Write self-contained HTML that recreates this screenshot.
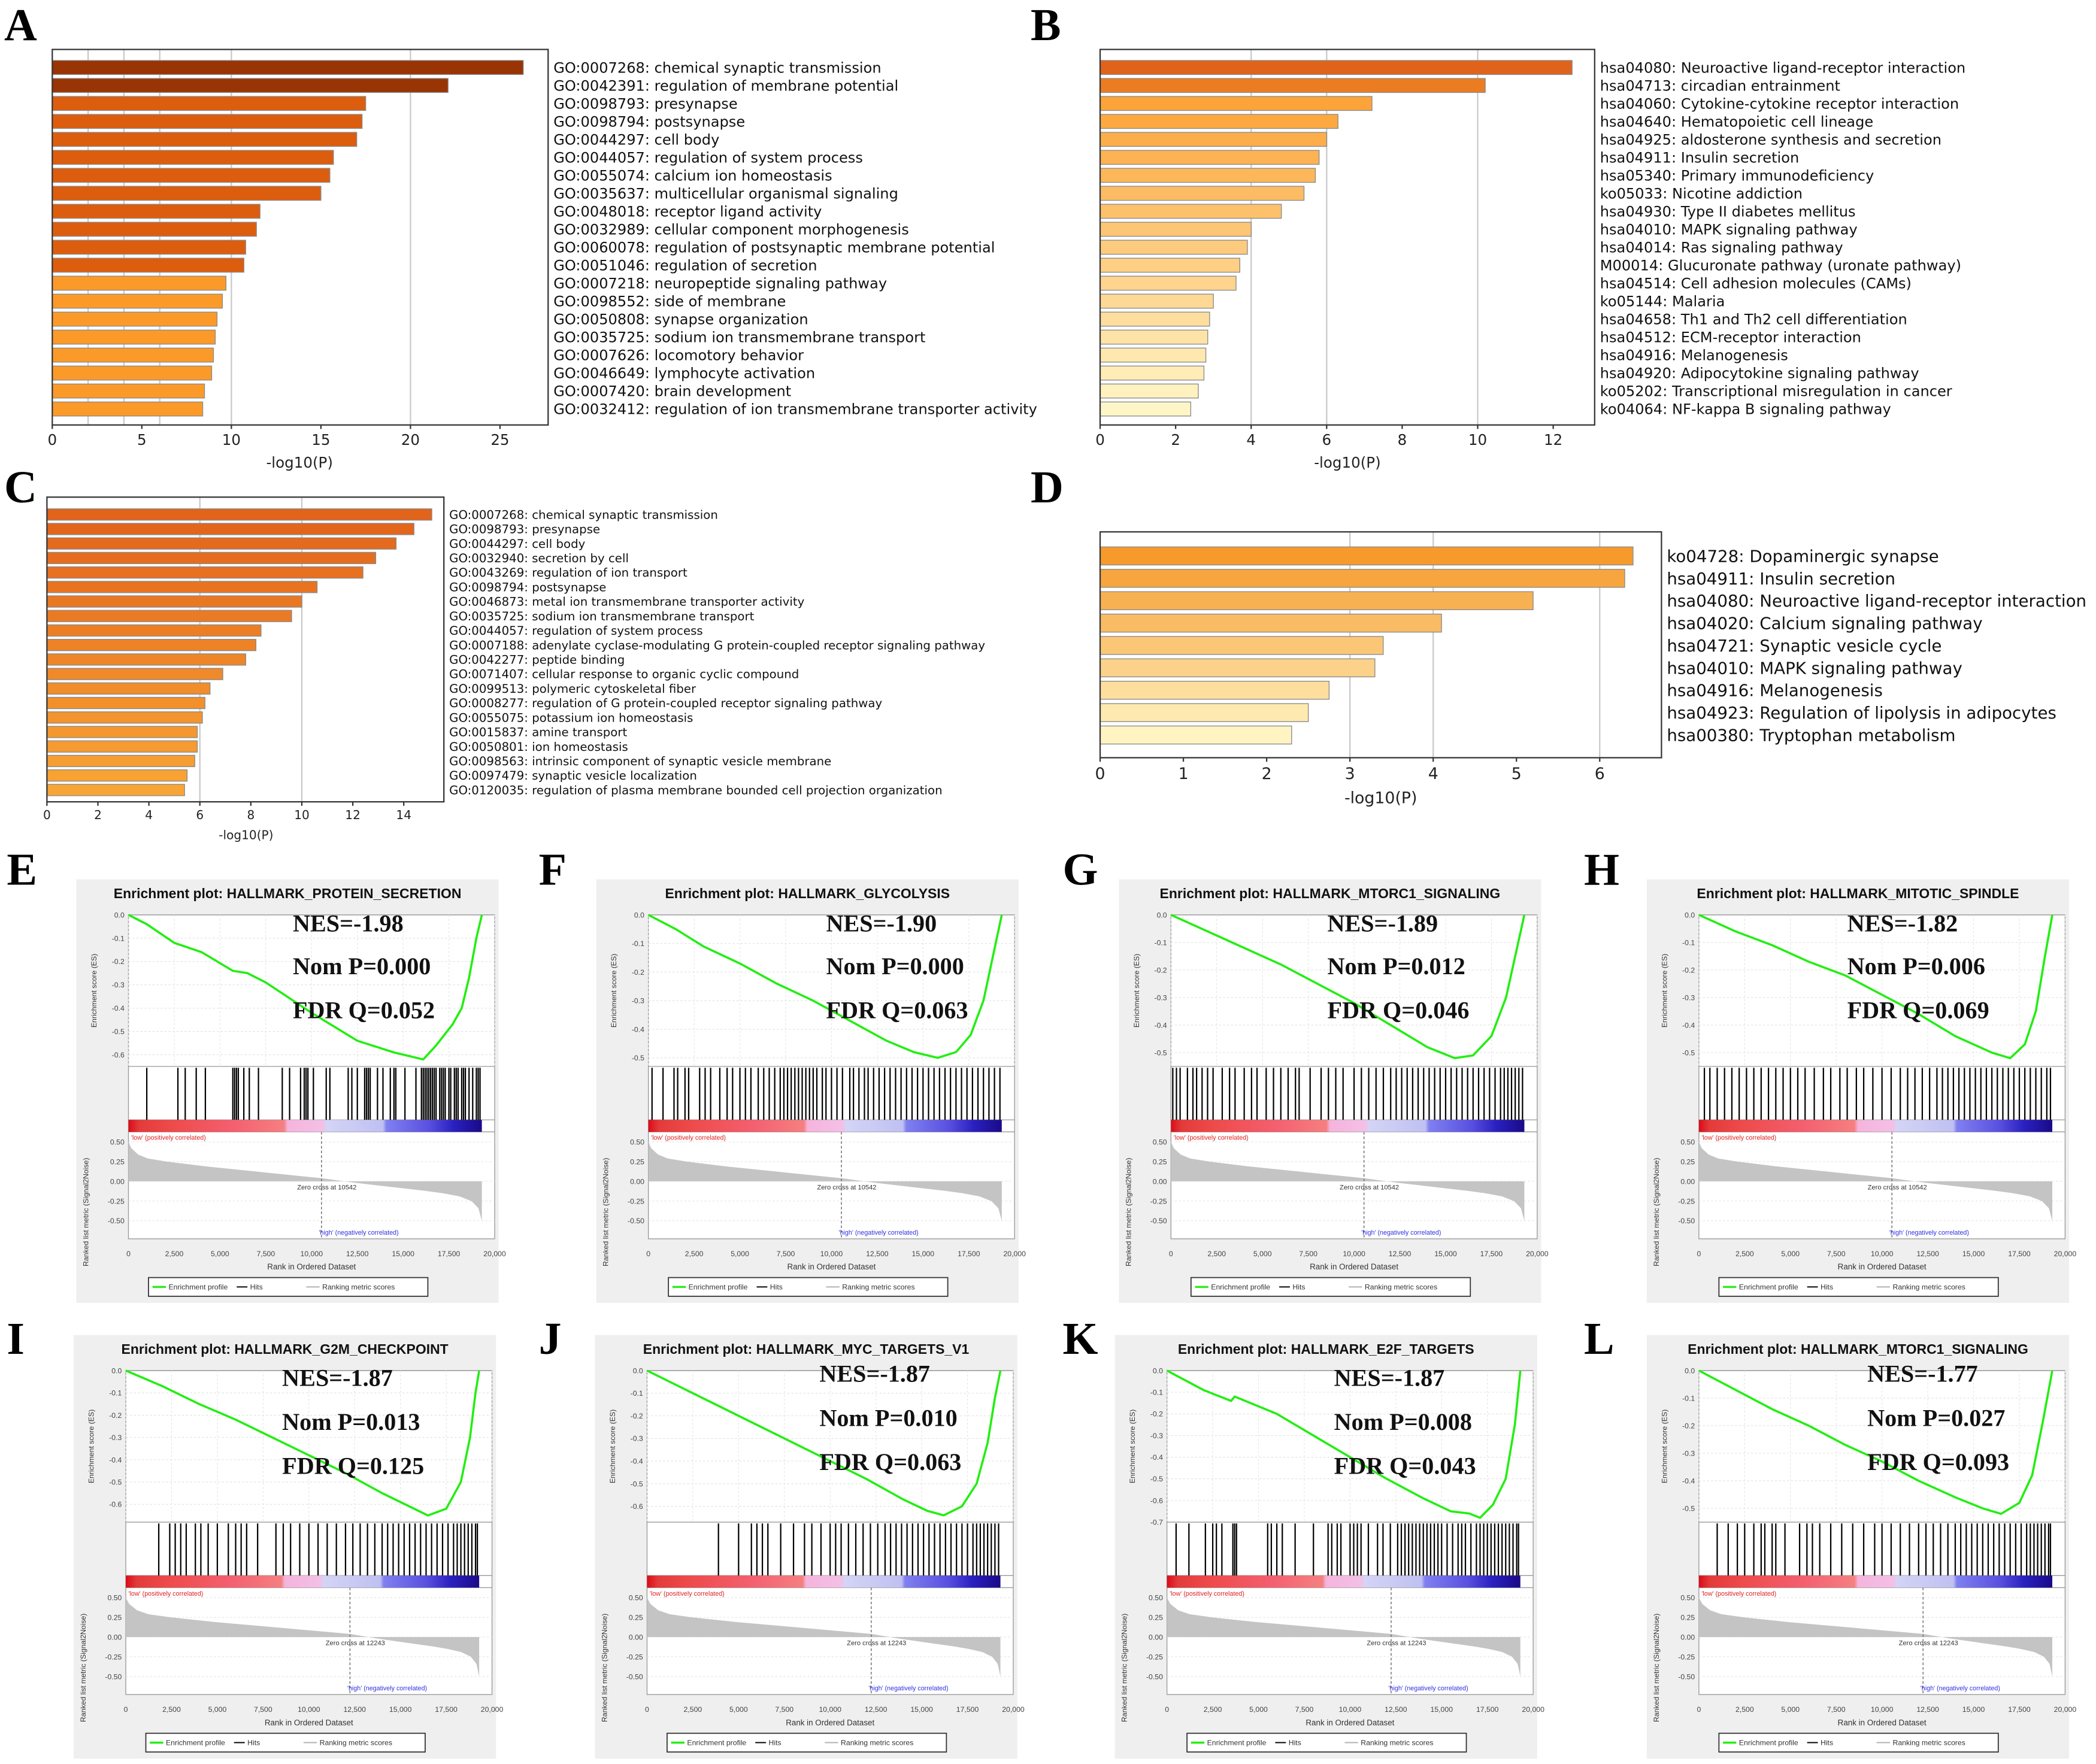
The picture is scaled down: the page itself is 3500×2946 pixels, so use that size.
<!DOCTYPE html>
<html><head><meta charset="utf-8"><style>
html,body{margin:0;padding:0;background:#fff;width:3500px;height:2946px;overflow:hidden}
svg{display:block}
</style></head><body>
<svg id="fig" xmlns="http://www.w3.org/2000/svg" width="3500" height="2946" viewBox="0 0 1568 1320" font-family="Liberation Sans, sans-serif">
<rect width="1568" height="1320" fill="#fff"/>
</svg>
<script>
// ---------- Bar chart data ----------
const aLabels=["GO:0007268: chemical synaptic transmission","GO:0042391: regulation of membrane potential","GO:0098793: presynapse","GO:0098794: postsynapse","GO:0044297: cell body","GO:0044057: regulation of system process","GO:0055074: calcium ion homeostasis","GO:0035637: multicellular organismal signaling","GO:0048018: receptor ligand activity","GO:0032989: cellular component morphogenesis","GO:0060078: regulation of postsynaptic membrane potential","GO:0051046: regulation of secretion","GO:0007218: neuropeptide signaling pathway","GO:0098552: side of membrane","GO:0050808: synapse organization","GO:0035725: sodium ion transmembrane transport","GO:0007626: locomotory behavior","GO:0046649: lymphocyte activation","GO:0007420: brain development","GO:0032412: regulation of ion transmembrane transporter activity"];
const aValues=[26.3,22.1,17.5,17.3,17.0,15.7,15.5,15.0,11.6,11.4,10.8,10.7,9.7,9.5,9.2,9.1,9.0,8.9,8.5,8.4];
const aTicks=[0,5,10,15,20,25];
const bLabels=["hsa04080: Neuroactive ligand-receptor interaction","hsa04713: circadian entrainment","hsa04060: Cytokine-cytokine receptor interaction","hsa04640: Hematopoietic cell lineage","hsa04925: aldosterone synthesis and secretion","hsa04911: Insulin secretion","hsa05340: Primary immunodeficiency","ko05033: Nicotine addiction","hsa04930: Type II diabetes mellitus","hsa04010: MAPK signaling pathway","hsa04014: Ras signaling pathway","M00014: Glucuronate pathway (uronate pathway)","hsa04514: Cell adhesion molecules (CAMs)","ko05144: Malaria","hsa04658: Th1 and Th2 cell differentiation","hsa04512: ECM-receptor interaction","hsa04916: Melanogenesis","hsa04920: Adipocytokine signaling pathway","ko05202: Transcriptional misregulation in cancer","ko04064: NF-kappa B signaling pathway"];
const bValues=[12.5,10.2,7.2,6.3,6.0,5.8,5.7,5.4,4.8,4.0,3.9,3.7,3.6,3.0,2.9,2.85,2.8,2.75,2.6,2.4];
const bTicks=[0,2,4,6,8,10,12];
const cLabels=["GO:0007268: chemical synaptic transmission","GO:0098793: presynapse","GO:0044297: cell body","GO:0032940: secretion by cell","GO:0043269: regulation of ion transport","GO:0098794: postsynapse","GO:0046873: metal ion transmembrane transporter activity","GO:0035725: sodium ion transmembrane transport","GO:0044057: regulation of system process","GO:0007188: adenylate cyclase-modulating G protein-coupled receptor signaling pathway","GO:0042277: peptide binding","GO:0071407: cellular response to organic cyclic compound","GO:0099513: polymeric cytoskeletal fiber","GO:0008277: regulation of G protein-coupled receptor signaling pathway","GO:0055075: potassium ion homeostasis","GO:0015837: amine transport","GO:0050801: ion homeostasis","GO:0098563: intrinsic component of synaptic vesicle membrane","GO:0097479: synaptic vesicle localization","GO:0120035: regulation of plasma membrane bounded cell projection organization"];
const cValues=[15.1,14.4,13.7,12.9,12.4,10.6,10.0,9.6,8.4,8.2,7.8,6.9,6.4,6.2,6.1,5.9,5.9,5.8,5.5,5.4];
const cTicks=[0,2,4,6,8,10,12,14];
const dLabels=["ko04728: Dopaminergic synapse","hsa04911: Insulin secretion","hsa04080: Neuroactive ligand-receptor interaction","hsa04020: Calcium signaling pathway","hsa04721: Synaptic vesicle cycle","hsa04010: MAPK signaling pathway","hsa04916: Melanogenesis","hsa04923: Regulation of lipolysis in adipocytes","hsa00380: Tryptophan metabolism"];
const dValues=[6.4,6.3,5.2,4.1,3.4,3.3,2.75,2.5,2.3];
const dTicks=[0,1,2,3,4,5,6];

// ---------- GSEA data (ranks in thousands) ----------
const gTitles=["HALLMARK_PROTEIN_SECRETION","HALLMARK_GLYCOLYSIS","HALLMARK_MTORC1_SIGNALING","HALLMARK_MITOTIC_SPINDLE","HALLMARK_G2M_CHECKPOINT","HALLMARK_MYC_TARGETS_V1","HALLMARK_E2F_TARGETS","HALLMARK_MTORC1_SIGNALING"];
const gNES=["-1.98","-1.90","-1.89","-1.82","-1.87","-1.87","-1.87","-1.77"];
const gNomP=["0.000","0.000","0.012","0.006","0.013","0.010","0.008","0.027"];
const gFDR=["0.052","0.063","0.046","0.069","0.125","0.063","0.043","0.093"];
const gZero=[10542,10542,10542,10542,12243,12243,12243,12243];
const gEsTicks=[[0,-0.1,-0.2,-0.3,-0.4,-0.5,-0.6],[0,-0.1,-0.2,-0.3,-0.4,-0.5],[0,-0.1,-0.2,-0.3,-0.4,-0.5],[0,-0.1,-0.2,-0.3,-0.4,-0.5],[0,-0.1,-0.2,-0.3,-0.4,-0.5,-0.6],[0,-0.1,-0.2,-0.3,-0.4,-0.5,-0.6],[0,-0.1,-0.2,-0.3,-0.4,-0.5,-0.6,-0.7],[0,-0.1,-0.2,-0.3,-0.4,-0.5]];
const gEsBottom=[-0.65,-0.53,-0.55,-0.55,-0.68,-0.67,-0.7,-0.55];
const esRankE=[0,1,2.5,4,5.7,6.5,7.5,10,12.5,14.5,16.1,16.8,17.7,18.2,18.6,19.0,19.3];
const esValE=[0,-0.04,-0.12,-0.16,-0.24,-0.25,-0.29,-0.42,-0.54,-0.59,-0.62,-0.56,-0.47,-0.40,-0.27,-0.10,0];
const esRankF=[0,1.5,3,5,7,9,11,13,14.5,15.8,16.8,17.6,18.3,18.8,19.3];
const esValF=[0,-0.05,-0.11,-0.17,-0.24,-0.30,-0.37,-0.44,-0.48,-0.50,-0.48,-0.42,-0.30,-0.15,0];
const esRankG=[0,2,4,6,8,10,12,14,15.5,16.5,17.5,18.3,18.9,19.3];
const esValG=[0,-0.06,-0.12,-0.18,-0.25,-0.32,-0.40,-0.48,-0.52,-0.51,-0.44,-0.30,-0.12,0];
const esRankH=[0,2,4,6,8,10,12,14,16,17,17.8,18.4,18.9,19.3];
const esValH=[0,-0.06,-0.11,-0.17,-0.22,-0.29,-0.36,-0.44,-0.50,-0.52,-0.47,-0.35,-0.15,0];
const esRankI=[0,2,4,6,8,10,12,14,15.5,16.5,17.5,18.3,18.8,19.1,19.3];
const esValI=[0,-0.07,-0.15,-0.22,-0.30,-0.38,-0.46,-0.55,-0.61,-0.65,-0.62,-0.50,-0.30,-0.10,0];
const esRankJ=[0,2,4,6,8,10,12,14,15.3,16.2,17.2,18.0,18.6,19.0,19.3];
const esValJ=[0,-0.08,-0.16,-0.24,-0.32,-0.40,-0.48,-0.57,-0.62,-0.64,-0.60,-0.50,-0.32,-0.12,0];
const esRankK=[0,2,3.5,3.7,6,8,10,12,14,15.5,16.5,17.1,17.8,18.5,19.0,19.3];
const esValK=[0,-0.09,-0.14,-0.12,-0.20,-0.30,-0.40,-0.50,-0.59,-0.65,-0.66,-0.68,-0.62,-0.50,-0.25,0];
const esRankL=[0,2,4,6,8,10,12,14,15.5,16.5,17.5,18.2,18.8,19.3];
const esValL=[0,-0.07,-0.14,-0.20,-0.27,-0.33,-0.40,-0.46,-0.50,-0.52,-0.48,-0.38,-0.18,0];
const hitsE=[1.0,2.7,3.1,3.7,4.2,5.7,5.8,5.9,6.0,6.3,6.6,7.1,8.4,8.8,9.4,9.6,9.7,9.8,10.1,10.8,11.0,12.0,12.2,12.5,12.9,13.0,13.1,13.2,13.6,13.9,14.3,14.5,14.6,15.1,15.7,16.0,16.1,16.2,16.3,16.4,16.5,16.6,16.7,16.8,17.0,17.1,17.2,17.3,17.5,17.6,17.8,17.9,18.0,18.2,18.3,18.4,18.6,18.8,19.0,19.1,19.2];
const hitsF=[0.2,0.8,1.4,1.6,2.0,2.2,2.8,3.1,3.4,3.9,4.3,4.6,5.0,5.3,5.6,6.0,6.3,6.6,6.9,7.2,7.4,7.6,7.8,8.0,8.2,8.4,8.6,8.8,9.0,9.2,9.5,9.7,10.0,10.3,10.6,11.0,11.2,11.5,11.8,12.0,12.3,12.6,12.9,13.2,13.5,13.8,14.1,14.4,14.7,15.0,15.3,15.6,15.9,16.2,16.5,16.8,17.1,17.4,17.7,18.0,18.3,18.6,18.9,19.2];
const hitsG=[0.1,0.3,0.5,0.9,1.2,1.4,1.7,2.0,2.3,2.8,3.2,3.5,4.0,4.4,4.7,5.2,5.6,6.0,6.4,6.8,7.0,7.6,8.2,8.6,9.0,9.4,10.0,10.4,10.8,11.2,11.6,12.0,12.3,12.6,12.9,13.2,13.5,13.8,14.1,14.4,14.7,15.0,15.3,15.6,15.9,16.2,16.5,16.8,17.1,17.4,17.7,18.0,18.2,18.4,18.6,18.8,19.0,19.2];
const hitsH=[0.3,0.6,1.0,1.4,1.8,2.2,2.6,3.0,3.4,3.8,4.2,4.6,5.0,5.4,5.8,6.3,6.8,7.2,7.7,8.1,8.6,9.0,9.5,10.0,10.5,11.0,11.4,11.8,12.2,12.6,13.0,13.3,13.6,13.9,14.2,14.5,14.8,15.1,15.4,15.7,16.0,16.3,16.6,16.9,17.2,17.5,17.8,18.1,18.4,18.7,19.0,19.2];
const hitsI=[1.8,2.4,2.7,3.0,3.3,3.8,4.1,4.5,5.0,5.6,6.0,6.3,6.6,7.2,8.2,8.6,9.0,9.5,10.0,10.5,11.0,11.5,12.0,12.4,12.8,13.2,13.6,14.0,14.3,14.6,14.9,15.2,15.5,15.8,16.1,16.4,16.7,17.0,17.3,17.6,17.9,18.1,18.3,18.5,18.7,18.9,19.1,19.2];
const hitsJ=[3.9,5.0,5.7,6.0,6.3,6.6,7.3,8.0,8.6,9.0,9.5,10.0,10.3,10.6,11.0,11.4,11.8,12.2,12.6,13.0,13.3,13.6,13.9,14.2,14.5,14.8,15.1,15.4,15.7,16.0,16.3,16.6,16.9,17.2,17.5,17.8,18.0,18.2,18.4,18.6,18.8,19.0,19.2];
const hitsK=[0.5,1.2,2.1,2.5,2.7,3.0,3.6,3.7,3.8,5.5,5.7,6.0,6.3,7.0,8.0,8.8,9.0,9.3,9.5,10.0,10.2,10.4,10.6,11.0,11.5,11.8,12.2,12.6,12.8,13.0,13.2,13.4,13.6,13.8,14.0,14.2,14.4,14.6,14.8,15.0,15.3,15.6,15.9,16.1,16.3,16.6,16.9,17.1,17.3,17.5,17.7,17.9,18.1,18.3,18.5,18.7,18.9,19.1,19.2];
const hitsL=[1.0,1.6,2.1,2.5,3.0,3.4,3.6,4.0,4.2,4.7,5.5,5.9,6.2,6.6,7.2,7.8,8.4,9.0,9.6,10.0,10.5,11.0,11.5,12.0,12.4,12.8,13.2,13.6,14.0,14.3,14.6,14.9,15.2,15.5,15.8,16.1,16.4,16.7,17.0,17.3,17.6,17.9,18.1,18.3,18.5,18.7,18.9,19.1,19.2];
const metricRank=[0,0.15,0.5,1,2,4,6,8,10,12,14,16,17,18,18.7,19.1,19.3];
const metricVal=[0.5,0.42,0.34,0.29,0.25,0.19,0.14,0.09,0.04,-0.02,-0.07,-0.12,-0.15,-0.19,-0.25,-0.34,-0.5];
const xTicks=[0,2500,5000,7500,10000,12500,15000,17500,20000];
const xTickLabels=["0","2,500","5,000","7,500","10,000","12,500","15,000","17,500","20,000"];

const NS="http://www.w3.org/2000/svg";
const fig=document.getElementById('fig');
function el(tag,attrs,parent,text){const e=document.createElementNS(NS,tag);for(const k in attrs)e.setAttribute(k,attrs[k]);if(text!==undefined)e.textContent=text;(parent||fig).appendChild(e);return e;}
function lerpColor(c1,c2,t){const a=[1,3,5].map(i=>parseInt(c1.substr(i,2),16)),b=[1,3,5].map(i=>parseInt(c2.substr(i,2),16));return 'rgb('+a.map((v,i)=>Math.round(v+(b[i]-v)*t)).join(',')+')';}

function letter(ch,x,y){const t=el('text',{x:x,y:y,'font-family':'Liberation Serif, serif','font-weight':'bold','font-size':34},fig,ch);

}

function barChart(cfg){
  const g=el('g',{});
  
  
  const sx=v=>cfg.x0+v*cfg.ppu;
  cfg.grid.forEach(v=>{const l=el('line',{x1:sx(v),x2:sx(v),y1:cfg.y0,y2:cfg.y1,stroke:'#c8c8c8','stroke-width':1},g);
    
    });
  cfg.values.forEach((v,i)=>{const cy=cfg.firstY+i*cfg.step;
    const r=el('rect',{x:cfg.x0,y:cy-cfg.bh/2,width:v*cfg.ppu,height:cfg.bh,fill:cfg.color(i),stroke:'#8a8a8a','stroke-width':0.6},g);
    
    
    const t=el('text',{x:cfg.x1+4,y:cy+cfg.fs*0.36,'font-size':cfg.fs,fill:'#111','font-family':'DejaVu Sans, sans-serif'},g,cfg.labels[i]);
    
    });
  const b=el('rect',{x:cfg.x0,y:cfg.y0,width:cfg.x1-cfg.x0,height:cfg.y1-cfg.y0,fill:'none',stroke:'#333','stroke-width':1},g);
  
  
  cfg.ticks.forEach(v=>{el('line',{x1:sx(v),x2:sx(v),y1:cfg.y1,y2:cfg.y1+3,stroke:'#333'},g);
    const t=el('text',{x:sx(v),y:cfg.y1+cfg.tfs+4,'font-size':cfg.tfs,'text-anchor':'middle',fill:'#222','font-family':'DejaVu Sans, sans-serif'},g,String(v));
    
    });
  const tt=el('text',{x:cfg.titleX,y:cfg.titleY,'font-size':cfg.tfs,'text-anchor':'middle',fill:'#222','font-family':'DejaVu Sans, sans-serif'},g,'-log10(P)');
  
  
}
letter('A',3,30);letter('B',771,30);letter('C',3,376);letter('D',771,376);
barChart({name:'chart-a',x0:39,x1:410,y0:37,y1:318,ppu:13.4,values:aValues,labels:aLabels,ticks:aTicks,grid:[2,4,6,10,20],firstY:50.5,step:13.45,bh:10.5,fs:10.8,tfs:11,titleX:224,titleY:350,
  color:i=>i<2?'#993404':(i<12?'#dd5d0e':'#fb9a29')});
barChart({name:'chart-b',x0:823,x1:1193,y0:37,y1:318,ppu:28.25,values:bValues,labels:bLabels,ticks:bTicks,grid:[4,6,10],firstY:50.5,step:13.45,bh:10.5,fs:10.8,tfs:11,titleX:1008,titleY:350,
  color:i=>i===0?'#e0631b':(i===1?'#ec7c22':lerpColor('#fca43a','#fff6c8',(i-2)/17))});
barChart({name:'chart-c',x0:35,x1:332,y0:372,y1:600,ppu:19.07,values:cValues,labels:cLabels,ticks:cTicks,grid:[6,10],firstY:385,step:10.85,bh:8.5,fs:8.85,tfs:9,titleX:184,titleY:628,
  color:i=>lerpColor('#e2631a','#f9a535',i/19)});
barChart({name:'chart-d',x0:823,x1:1243,y0:398,y1:567,ppu:62.3,values:dValues,labels:dLabels,ticks:dTicks,grid:[3,4,6],firstY:416,step:16.75,bh:13.5,fs:12.4,tfs:12,titleX:1033,titleY:601,
  color:i=>lerpColor('#f69a2c','#fff4c2',i/8)});

// ---------- GSEA panels ----------
const esR=[esRankE,esRankF,esRankG,esRankH,esRankI,esRankJ,esRankK,esRankL];
const esV=[esValE,esValF,esValG,esValH,esValI,esValJ,esValK,esValL];
const hits=[hitsE,hitsF,hitsG,hitsH,hitsI,hitsJ,hitsK,hitsL];
const origins=[[57,658],[446,658],[837,658],[1232,658],[55,999],[445,999],[834,999],[1232,999]];
const nesX=[162,172,156,150,156,168,164,165];
const nesY=[[39,71,104],[39,71,104],[39,71,104],[39,71,104],[38,71,104],[35,68,101],[38,71,104],[35,68,101]];
const letters2=['E','F','G','H','I','J','K','L'];
const defs=el('defs',{});
const grad=el('linearGradient',{id:'rb',x1:0,x2:1,y1:0,y2:0},defs);
[[0,'#d90c18'],[0.03,'#e43a3a'],[0.12,'#ee4a4a'],[0.3,'#f46070'],[0.44,'#f58080'],[0.45,'#f5b4dc'],[0.55,'#f3c0e6'],[0.56,'#d4d4f6'],[0.72,'#c0c0f2'],[0.73,'#8080f0'],[0.85,'#5a50e0'],[0.92,'#2a20c0'],[1,'#1a0a88']].forEach(s=>el('stop',{offset:s[0],'stop-color':s[1]},grad));

origins.forEach((o,p)=>{
  const g=el('g',{transform:`translate(${o[0]},${o[1]})`});
  
  
  const bg=el('rect',{x:0,y:0,width:316,height:317,fill:'#efefef'},g);
  
  
  const L=39,R=313,T=26.6,EB=140,HB=180,CB=189,RB=269;
  const sx=r=>L+r/20000*(R-L);
  const bottom=gEsBottom[p];
  const sy=v=>T+(v/bottom)*(EB-T);
  const ry=v=>226-v*59;
  el('rect',{x:L,y:T,width:R-L,height:RB-T,fill:'#fff',stroke:'#999','stroke-width':0.6},g);
  const title=el('text',{x:158,y:14,'font-size':10.3,'font-weight':'bold','text-anchor':'middle',fill:'#111'},g,'Enrichment plot: '+gTitles[p]);
  
  
  gEsTicks[p].forEach(v=>{el('line',{x1:L,x2:R,y1:sy(v),y2:sy(v),stroke:v===0?'#aaa':'#e0e0e0','stroke-width':v===0?0.8:0.5,'stroke-dasharray':v===0?'':'1.5,1.5'},g);
    const t=el('text',{x:L-3,y:sy(v)+2,'font-size':5.5,'text-anchor':'end',fill:'#444'},g,v===0?'0.0':v.toFixed(1));
    
    });
  xTicks.forEach(v=>el('line',{x1:sx(v),x2:sx(v),y1:T,y2:EB,stroke:'#e4e4e4','stroke-width':0.5,'stroke-dasharray':'1.5,1.5'},g));
  el('line',{x1:L,x2:R,y1:EB,y2:EB,stroke:'#999','stroke-width':0.6},g);
  el('line',{x1:L,x2:R,y1:HB,y2:HB,stroke:'#999','stroke-width':0.6},g);
  el('line',{x1:L,x2:R,y1:CB,y2:CB,stroke:'#999','stroke-width':0.6},g);
  const yl=el('text',{transform:`translate(${L-24},${(T+EB)/2}) rotate(-90)`,'font-size':5.5,'text-anchor':'middle',fill:'#333'},g,'Enrichment score (ES)');
  
  
  hits[p].forEach(h=>{const l=el('line',{x1:sx(h*1000),x2:sx(h*1000),y1:EB+1,y2:HB,stroke:'#000','stroke-width':1},g);
    
    });
  const cb=el('rect',{x:L,y:HB,width:sx(19300)-L,height:CB-HB,fill:'url(#rb)'},g);
  
  
  const m0=ry(0);
  [0.5,0.25,0,-0.25,-0.5].forEach(v=>{el('line',{x1:L,x2:R,y1:ry(v),y2:ry(v),stroke:'#e4e4e4','stroke-width':0.5,'stroke-dasharray':'1.5,1.5'},g);
    const t=el('text',{x:L-3,y:ry(v)+2,'font-size':5.5,'text-anchor':'end',fill:'#444'},g,v.toFixed(2));
    
    });
  let pts=`${sx(0)},${m0} `+metricRank.map((r,i)=>{const zr=gZero[p]/1000;const rr=r<10?r*zr/10:zr+(r-10)*(19.3-zr)/9.3;return `${sx(rr*1000)},${ry(metricVal[i])}`;}).join(' ')+` ${sx(19300)},${m0}`;
  const poly=el('polygon',{points:pts,fill:'#c4c4c4'},g);
  
  
  el('line',{x1:sx(gZero[p]),x2:sx(gZero[p]),y1:CB,y2:RB,stroke:'#777','stroke-width':0.7,'stroke-dasharray':'2,1.5'},g);
  el('text',{x:sx(gZero[p])+4,y:m0+6,'font-size':5,'text-anchor':'middle',fill:'#333'},g,'Zero cross at '+gZero[p]);
  el('text',{x:L+2,y:CB+6,'font-size':4.8,fill:'#e02020'},g,"'low' (positively correlated)");
  el('text',{x:sx(gZero[p])-2,y:RB-3,'font-size':4.8,fill:'#3030e0'},g,"'high' (negatively correlated)");
  const yl2=el('text',{transform:`translate(${L-30},${(CB+RB)/2+20}) rotate(-90)`,'font-size':5.5,'text-anchor':'middle',fill:'#333'},g,'Ranked list metric (Signal2Noise)');
  
  
  xTicks.forEach((v,i)=>{const t=el('text',{x:sx(v),y:RB+13,'font-size':5.5,'text-anchor':'middle',fill:'#444'},g,xTickLabels[i]);
    
    });
  el('text',{x:(L+R)/2,y:RB+23,'font-size':6,'text-anchor':'middle',fill:'#333'},g,'Rank in Ordered Dataset');
  const path=el('polyline',{points:esR[p].map((r,i)=>`${sx(r*1000)},${sy(esV[p][i])}`).join(' '),fill:'none',stroke:'#22ee11','stroke-width':1.6},g);
  
  
  const stats=[`NES=${gNES[p]}`,`Nom P=${gNomP[p]}`,`FDR Q=${gFDR[p]}`];
  stats.forEach((s,i)=>{const t=el('text',{x:nesX[p],y:nesY[p][i],'font-size':18,'font-weight':'bold','font-family':'Liberation Serif, serif',fill:'#111'},g,s);
    
    });
  const lg=el('g',{},g);
  
  
  el('rect',{x:54,y:298,width:209,height:14,fill:'#fff',stroke:'#333','stroke-width':0.8},lg);
  el('line',{x1:57,x2:67,y1:305,y2:305,stroke:'#22ee11','stroke-width':1.5},lg);
  el('text',{x:69,y:307,'font-size':5.5,fill:'#333'},lg,'Enrichment profile');
  el('line',{x1:120,x2:128,y1:305,y2:305,stroke:'#222','stroke-width':1},lg);
  el('text',{x:130,y:307,'font-size':5.5,fill:'#333'},lg,'Hits');
  el('line',{x1:172,x2:182,y1:305,y2:305,stroke:'#bbb','stroke-width':1},lg);
  el('text',{x:184,y:307,'font-size':5.5,fill:'#333'},lg,'Ranking metric scores');
  letter(letters2[p],[5,403,795,1185][p%4],p<4?662:1013);
});
</script>
</body></html>
